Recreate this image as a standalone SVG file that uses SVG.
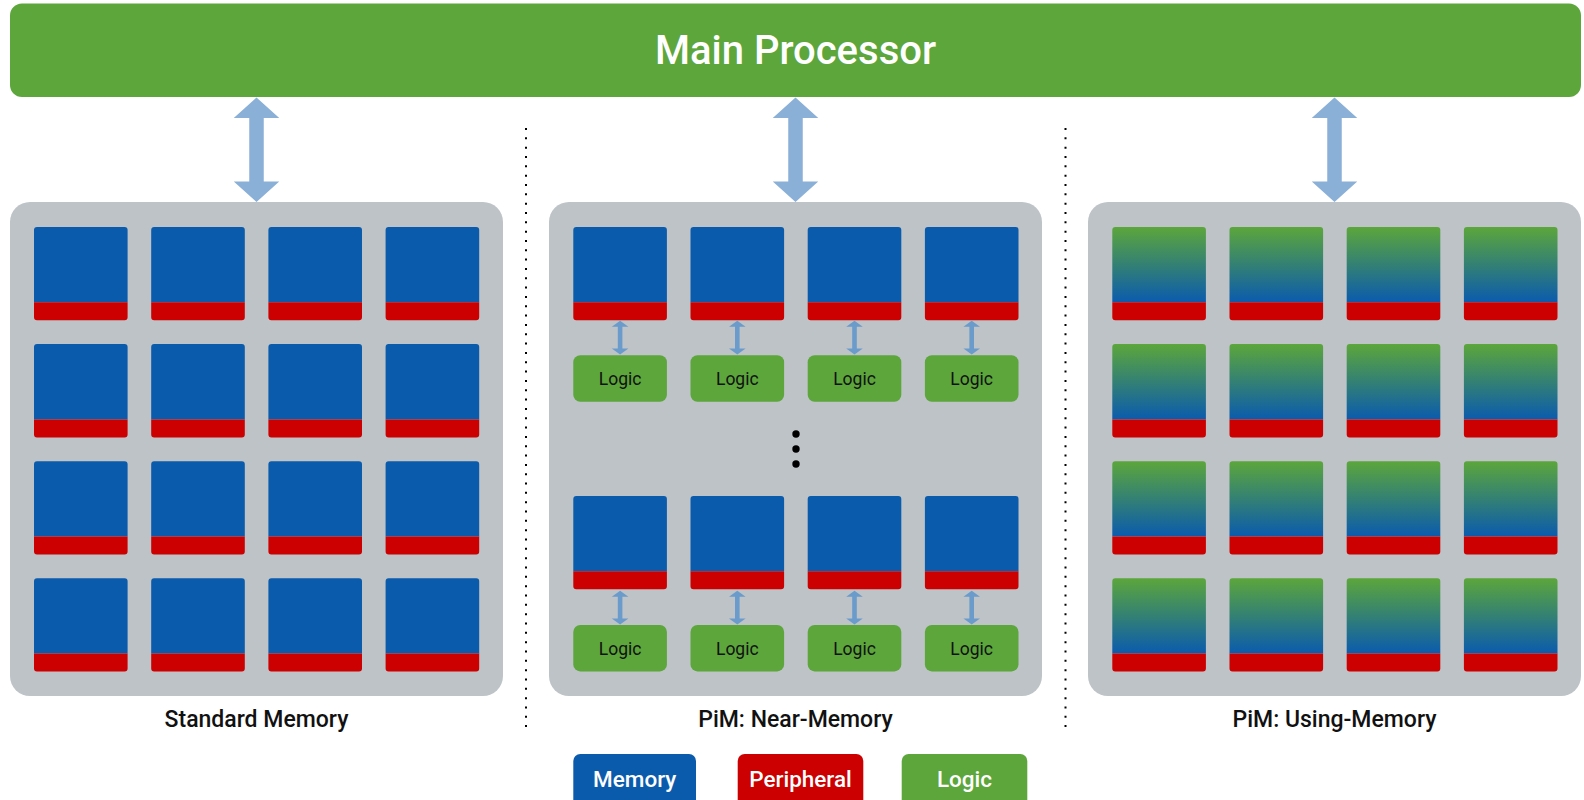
<svg xmlns="http://www.w3.org/2000/svg" xmlns:xlink="http://www.w3.org/1999/xlink" width="1584" height="800" viewBox="0 0 1584 800">
  <style>
    .panel { fill: #bdc3c6; }
    .mem { fill: #0b5bad; }
    .per { fill: #cc0000; }
    .logic { fill: #5ca63b; }
    .bus { fill: #8ab0d8; }
    .link { fill: #6b9bcb; }
    .sep { stroke: #000; stroke-width: 2; stroke-dasharray: 2 7.33; fill: none; }
    .title { font-family: Roboto, "Liberation Sans", sans-serif; font-size: 40px; font-weight: 500; fill: #fff; text-anchor: middle; }
    .label { font-family: Roboto, "Liberation Sans", sans-serif; font-size: 23px; font-weight: 500; fill: #111; text-anchor: middle; }
    .key { font-family: Roboto, "Liberation Sans", sans-serif; font-size: 22.5px; font-weight: 500; fill: #fff; text-anchor: middle; }
    .lt { font-family: Roboto, "Liberation Sans", sans-serif; font-size: 17.5px; fill: #111; text-anchor: middle; }
  </style>
  <defs>
    <linearGradient id="pimGrad" x1="0" y1="0" x2="0" y2="1">
      <stop offset="0" stop-color="#5ca63b"/>
      <stop offset="1" stop-color="#0b5bad"/>
    </linearGradient>
    <!-- memory bank: array on top, peripheral strip underneath -->
    <g id="memCell">
      <path class="mem" d="M0,3 a3,3 0 0 1 3,-3 h87.6 a3,3 0 0 1 3,3 v72.3 h-93.6 z"/>
      <path class="per" d="M0,75.3 h93.6 v15 a3,3 0 0 1 -3,3 h-87.6 a3,3 0 0 1 -3,-3 z"/>
    </g>
    <!-- bank that computes inside the array -->
    <g id="pimCell">
      <path fill="url(#pimGrad)" d="M0,3 a3,3 0 0 1 3,-3 h87.6 a3,3 0 0 1 3,3 v72.3 h-93.6 z"/>
      <path class="per" d="M0,75.3 h93.6 v15 a3,3 0 0 1 -3,3 h-87.6 a3,3 0 0 1 -3,-3 z"/>
    </g>
    <g id="logicBox">
      <rect class="logic" x="0" y="0" width="93.6" height="46.4" rx="7"/>
      <text class="lt" x="46.8" y="30.2">Logic</text>
    </g>
  </defs>

  <!-- host -->
  <g id="main-processor">
    <rect class="logic" x="10" y="3.5" width="1571" height="93.5" rx="12"/>
    <text class="title" x="795.5" y="64">Main Processor</text>
  </g>

  <!-- standard memory -->
  <g id="standard-memory">
    <rect class="panel" x="10" y="202" width="493" height="494" rx="20"/>
    <use href="#memCell" x="34" y="227"/><use href="#memCell" x="151.2" y="227"/><use href="#memCell" x="268.4" y="227"/><use href="#memCell" x="385.6" y="227"/>
    <use href="#memCell" x="34" y="344.1"/><use href="#memCell" x="151.2" y="344.1"/><use href="#memCell" x="268.4" y="344.1"/><use href="#memCell" x="385.6" y="344.1"/>
    <use href="#memCell" x="34" y="461.2"/><use href="#memCell" x="151.2" y="461.2"/><use href="#memCell" x="268.4" y="461.2"/><use href="#memCell" x="385.6" y="461.2"/>
    <use href="#memCell" x="34" y="578.3"/><use href="#memCell" x="151.2" y="578.3"/><use href="#memCell" x="268.4" y="578.3"/><use href="#memCell" x="385.6" y="578.3"/>
    <text class="label" x="256.5" y="726.5">Standard Memory</text>
  </g>

  <!-- near-memory processing -->
  <g id="near-memory">
    <rect class="panel" x="549" y="202" width="493" height="494" rx="20"/>
    <use href="#memCell" x="573.3" y="227"/><use href="#memCell" x="690.5" y="227"/><use href="#memCell" x="807.7" y="227"/><use href="#memCell" x="924.9" y="227"/>
    <use href="#logicBox" x="573.3" y="355.3"/><use href="#logicBox" x="690.5" y="355.3"/><use href="#logicBox" x="807.7" y="355.3"/><use href="#logicBox" x="924.9" y="355.3"/>
    <circle cx="796" cy="434" r="3.7"/>
    <circle cx="796" cy="449" r="3.7"/>
    <circle cx="796" cy="464" r="3.7"/>
    <use href="#memCell" x="573.3" y="496"/><use href="#memCell" x="690.5" y="496"/><use href="#memCell" x="807.7" y="496"/><use href="#memCell" x="924.9" y="496"/>
    <use href="#logicBox" x="573.3" y="625"/><use href="#logicBox" x="690.5" y="625"/><use href="#logicBox" x="807.7" y="625"/><use href="#logicBox" x="924.9" y="625"/>
    <text class="label" x="795.5" y="726.5">PiM: Near-Memory</text>
  </g>

  <!-- processing using memory -->
  <g id="using-memory">
    <rect class="panel" x="1088" y="202" width="493" height="494" rx="20"/>
    <use href="#pimCell" x="1112.3" y="227"/><use href="#pimCell" x="1229.5" y="227"/><use href="#pimCell" x="1346.7" y="227"/><use href="#pimCell" x="1463.9" y="227"/>
    <use href="#pimCell" x="1112.3" y="344.1"/><use href="#pimCell" x="1229.5" y="344.1"/><use href="#pimCell" x="1346.7" y="344.1"/><use href="#pimCell" x="1463.9" y="344.1"/>
    <use href="#pimCell" x="1112.3" y="461.2"/><use href="#pimCell" x="1229.5" y="461.2"/><use href="#pimCell" x="1346.7" y="461.2"/><use href="#pimCell" x="1463.9" y="461.2"/>
    <use href="#pimCell" x="1112.3" y="578.3"/><use href="#pimCell" x="1229.5" y="578.3"/><use href="#pimCell" x="1346.7" y="578.3"/><use href="#pimCell" x="1463.9" y="578.3"/>
    <text class="label" x="1334.5" y="726.5">PiM: Using-Memory</text>
  </g>

  <!-- separators -->
  <g id="separators">
    <line class="sep" x1="526" y1="128" x2="526" y2="732"/>
    <line class="sep" x1="1065.5" y1="128" x2="1065.5" y2="732"/>
  </g>

  <!-- bidirectional links -->
  <g id="connectors">
    <path class="bus" d="M256.5,97.5 L279.25,118 L263.75,118 L263.75,181.5 L279.25,181.5 L256.5,202 L233.75,181.5 L249.25,181.5 L249.25,118 L233.75,118 Z"/>
    <path class="bus" d="M795.5,97.5 L818.25,118 L802.75,118 L802.75,181.5 L818.25,181.5 L795.5,202 L772.75,181.5 L788.25,181.5 L788.25,118 L772.75,118 Z"/>
    <path class="bus" d="M1334.5,97.5 L1357.25,118 L1341.75,118 L1341.75,181.5 L1357.25,181.5 L1334.5,202 L1311.75,181.5 L1327.25,181.5 L1327.25,118 L1311.75,118 Z"/>
    <g id="links-top">
      <path class="link" d="M620.1,320.7 l8.3,6 h-6 v21.9 h6 l-8.3,6 l-8.3,-6 h6 v-21.9 h-6 z"/>
      <path class="link" d="M737.3,320.7 l8.3,6 h-6 v21.9 h6 l-8.3,6 l-8.3,-6 h6 v-21.9 h-6 z"/>
      <path class="link" d="M854.5,320.7 l8.3,6 h-6 v21.9 h6 l-8.3,6 l-8.3,-6 h6 v-21.9 h-6 z"/>
      <path class="link" d="M971.7,320.7 l8.3,6 h-6 v21.9 h6 l-8.3,6 l-8.3,-6 h6 v-21.9 h-6 z"/>
    </g>
    <g id="links-bottom">
      <path class="link" d="M620.1,590.7 l8.3,6 h-6 v21.9 h6 l-8.3,6 l-8.3,-6 h6 v-21.9 h-6 z"/>
      <path class="link" d="M737.3,590.7 l8.3,6 h-6 v21.9 h6 l-8.3,6 l-8.3,-6 h6 v-21.9 h-6 z"/>
      <path class="link" d="M854.5,590.7 l8.3,6 h-6 v21.9 h6 l-8.3,6 l-8.3,-6 h6 v-21.9 h-6 z"/>
      <path class="link" d="M971.7,590.7 l8.3,6 h-6 v21.9 h6 l-8.3,6 l-8.3,-6 h6 v-21.9 h-6 z"/>
    </g>
  </g>

  <!-- legend -->
  <g id="legend-memory">
    <rect class="mem" x="573.3" y="754" width="122.7" height="54" rx="7"/>
    <text class="key" x="634.7" y="786.5">Memory</text>
  </g>
  <g id="legend-peripheral">
    <rect class="per" x="737.7" y="754" width="125.6" height="54" rx="7"/>
    <text class="key" x="800.5" y="786.5">Peripheral</text>
  </g>
  <g id="legend-logic">
    <rect class="logic" x="901.7" y="754" width="125.6" height="54" rx="7"/>
    <text class="key" x="964.5" y="786.5">Logic</text>
  </g>
</svg>
